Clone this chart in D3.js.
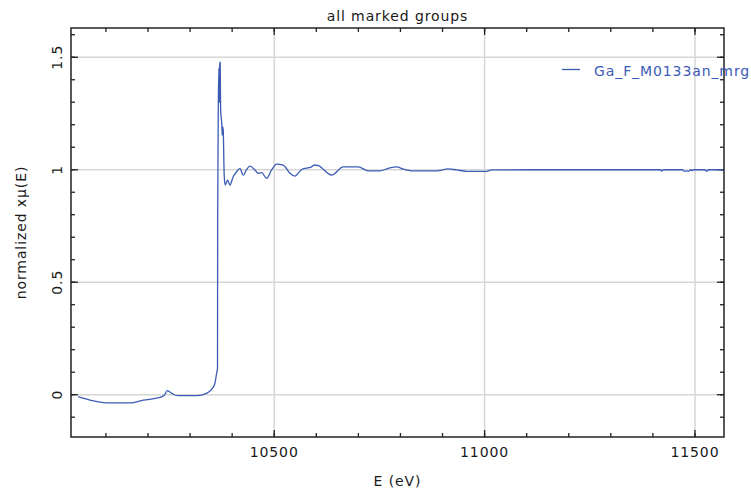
<!DOCTYPE html>
<html>
<head>
<meta charset="utf-8">
<script src="https://cdn.jsdelivr.net/npm/d3@7"></script>
<style>
  body { margin: 0; background: #fff; }
  text { font-family: "DejaVu Sans", sans-serif; fill: #1a1a1a; letter-spacing: 0.9px; }
</style>
</head>
<body>
<div id="chart"></div>
<script>
// Ga K-edge, normalized mu(E)
var energy = [10034, 10062, 10101, 10157, 10189, 10228, 10238, 10246, 10252, 10260,
    10272, 10316, 10339, 10351, 10359, 10363, 10365.2, 10365.6, 10367.2, 10368.4,
    10369.4, 10370.2, 10371.6, 10372.6, 10375.7, 10376.4, 10377.6, 10378.8, 10381.1, 10383.5,
    10389.2, 10394.7, 10402.5, 10410.6, 10418.5, 10426.3, 10434, 10442.2, 10454.1, 10462,
    10470, 10481.9, 10493.8, 10505.7, 10521.4, 10537.3, 10549.2, 10565.1, 10588.9, 10596,
    10605, 10636.4, 10664, 10699.7, 10723.4, 10751.2, 10771, 10790.9, 10806.6, 10830.4,
    10886, 10913.6, 10933.6, 10957.3, 11004.9, 11016.8, 11100, 11200, 11300, 11418,
    11421, 11424, 11470, 11474, 11486, 11490, 11493, 11496, 11524, 11528,
    11532, 11569];
var muNorm = [-0.009, -0.024, -0.036, -0.036, -0.024, -0.012, -0.004, 0.018, 0.012, 0.002,
    -0.004, -0.004, 0.006, 0.024, 0.050, 0.095, 0.117, 0.776, 1.30, 1.45,
    1.30, 1.46, 1.478, 1.27, 1.19, 1.154, 1.19, 1.176, 0.976, 0.932,
    0.954, 0.932, 0.969, 0.991, 1.006, 0.976, 1.000, 1.016, 0.999, 0.984,
    0.987, 0.962, 0.999, 1.025, 1.021, 0.984, 0.972, 1.001, 1.013, 1.021,
    1.018, 0.976, 1.013, 1.013, 0.995, 0.995, 1.006, 1.013, 1.003, 0.995,
    0.995, 1.004, 0.999, 0.993, 0.993, 0.999, 1.0, 1.0, 1.0, 1.0,
    0.993, 1.0, 1.0, 0.994, 0.994, 1.0, 0.996, 1.0, 1.0, 0.993,
    1.0, 1.0];

var xMajor = [10500, 11000, 11500];
var xMinor = d3.range(10100, 11600, 100);
var yMajor = [0, 0.5, 1, 1.5];
var yMinor = d3.range(-1, 17).map(function(i) { return i / 10; });

var seriesName = 'Ga_F_M0133an_mrg';
var lineClr = '#3b5bb5';

var W = 751, H = 491;
var m = { top: 28, right: 27, bottom: 54, left: 71 };

var svg = d3.select('#chart').append('svg')
    .attr('width', W).attr('height', H);

var x = d3.scaleLinear().domain([10017, 11569]).range([m.left, W - m.right]);
var y = d3.scaleLinear().domain([-0.188, 1.63]).range([H - m.bottom, m.top]);

// grid
var grid = svg.append('g').attr('stroke', '#d6d6d6').attr('stroke-width', 1.5);
grid.selectAll('line.gx').data(xMajor).enter().append('line')
    .attr('x1', x).attr('x2', x).attr('y1', m.top).attr('y2', H - m.bottom);
grid.selectAll('line.gy').data(yMajor).enter().append('line')
    .attr('y1', y).attr('y2', y).attr('x1', m.left).attr('x2', W - m.right);

// ticks on all four sides, pointing inward
function tickSet(g, data, len) {
    g.selectAll(null).data(data).enter().append('line')
        .attr('x1', x).attr('x2', x).attr('y1', H - m.bottom).attr('y2', H - m.bottom - len);
    g.selectAll(null).data(data).enter().append('line')
        .attr('x1', x).attr('x2', x).attr('y1', m.top).attr('y2', m.top + len);
}
function tickSetY(g, data, len) {
    g.selectAll(null).data(data).enter().append('line')
        .attr('y1', y).attr('y2', y).attr('x1', m.left).attr('x2', m.left + len);
    g.selectAll(null).data(data).enter().append('line')
        .attr('y1', y).attr('y2', y).attr('x1', W - m.right).attr('x2', W - m.right - len);
}
var ticks = svg.append('g').attr('stroke', '#222').attr('stroke-width', 1.3);
tickSet(ticks, xMinor, 4);
tickSet(ticks, xMajor, 7);
tickSetY(ticks, yMinor, 4);
tickSetY(ticks, yMajor, 7);

// data line
var line = d3.line()
    .curve(d3.curveMonotoneX)
    .x(function(d, i) { return x(energy[i]); })
    .y(function(d) { return y(d); });

svg.append('path')
    .datum(muNorm)
    .attr('fill', 'none')
    .attr('stroke', lineClr)
    .attr('stroke-width', 1.3)
    .attr('stroke-linejoin', 'round')
    .attr('d', line);

// frame
svg.append('rect')
    .attr('x', m.left).attr('y', m.top)
    .attr('width', W - m.left - m.right).attr('height', H - m.top - m.bottom)
    .attr('fill', 'none').attr('stroke', '#222').attr('stroke-width', 1.5);

// tick labels
svg.selectAll('text.xl').data(xMajor).enter().append('text')
    .attr('x', x).attr('y', 457)
    .attr('text-anchor', 'middle').attr('font-size', 14)
    .text(function(d) { return d; });

svg.selectAll('text.yl').data(yMajor).enter().append('text')
    .attr('transform', function(d) { return 'translate(62,' + y(d) + ') rotate(-90)'; })
    .attr('text-anchor', 'middle').attr('font-size', 14)
    .text(function(d) { return d; });

// titles
svg.append('text').attr('x', (m.left + W - m.right) / 2).attr('y', 21)
    .attr('text-anchor', 'middle').attr('font-size', 14).text('all marked groups');
svg.append('text').attr('x', (m.left + W - m.right) / 2).attr('y', 486)
    .attr('text-anchor', 'middle').attr('font-size', 14).text('E (eV)');
svg.append('text')
    .attr('transform', 'translate(26,' + (m.top + H - m.bottom) / 2 + ') rotate(-90)')
    .attr('text-anchor', 'middle').attr('font-size', 14).text('normalized xμ(E)');

// legend
svg.append('line').attr('x1', 562).attr('x2', 580).attr('y1', 69.5).attr('y2', 69.5)
    .attr('stroke', lineClr).attr('stroke-width', 1.3);
svg.append('text').attr('x', 594).attr('y', 76).attr('font-size', 14)
    .style('fill', lineClr).text(seriesName);
</script>
</body>
</html>
